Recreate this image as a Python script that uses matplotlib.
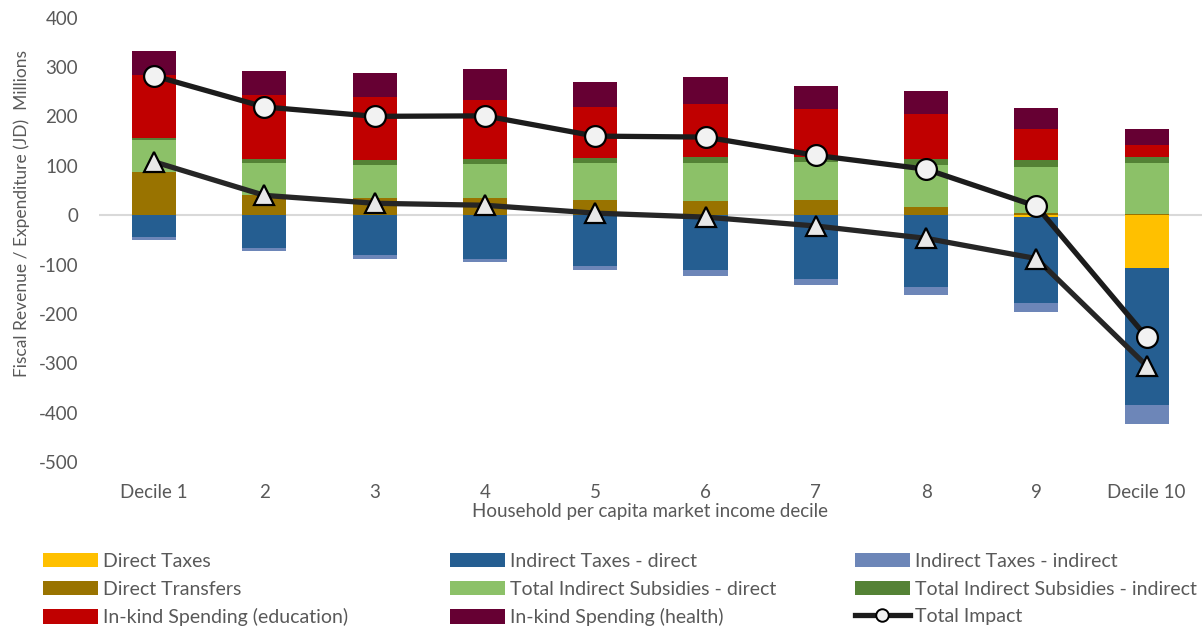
import numpy as np
import matplotlib
matplotlib.use("Agg")
from matplotlib import pyplot as plt
from matplotlib.patches import Patch
from matplotlib.lines import Line2D

plt.rcParams['font.family'] = ['Lato', 'DejaVu Sans']
plt.rcParams['axes.unicode_minus'] = False

deciles = ["Decile 1", "2", "3", "4", "5", "6", "7", "8", "9", "Decile 10"]

# negative components (taxes)
direct_taxes = [0, 0, 0, 0, 0, 0, 0, 0, -3, -107]
indirect_taxes_direct = [-44, -67, -81, -88, -103, -111, -130, -146, -175, -278]
indirect_taxes_indirect = [-6, -6, -7, -6, -8, -12, -11, -15, -19, -37]

# positive components (transfers, subsidies, in-kind)
direct_transfers = [88, 40, 35, 34, 30, 28, 30, 17, 5, 3]
subsidies_direct = [64, 65, 66, 69, 75, 78, 78, 84, 92, 102]
subsidies_indirect = [5, 8, 10, 10, 10, 11, 10, 12, 14, 12]
inkind_education = [126, 131, 129, 121, 103, 108, 97, 91, 64, 25]
inkind_health = [49, 48, 47, 61, 52, 55, 46, 48, 41, 33]

total_impact = [282, 219, 200, 201, 160, 158, 121, 93, 18, -247]
impact_no_inkind = [108, 40, 24, 20, 4, -4, -22, -47, -88, -305]

c_dtax = "#FFC000"
c_itax_d = "#255E91"
c_itax_i = "#6D86B8"
c_dtrans = "#997300"
c_sub_d = "#8CC168"
c_sub_i = "#548235"
c_edu = "#C00000"
c_health = "#660033"

fig = plt.figure(figsize=(12.04, 6.27), dpi=100)
ax = fig.add_axes([0.0822, 0.263, 0.916, 0.709])

x = np.arange(len(deciles))
w = 0.4

# stack below zero
neg_base = np.zeros(len(x))
for vals, col in [(direct_taxes, c_dtax), (indirect_taxes_direct, c_itax_d),
                  (indirect_taxes_indirect, c_itax_i)]:
    ax.bar(x, vals, w, bottom=neg_base, color=col, zorder=2)
    neg_base = neg_base + np.array(vals)

# stack above zero
pos_base = np.zeros(len(x))
for vals, col in [(direct_transfers, c_dtrans), (subsidies_direct, c_sub_d),
                  (subsidies_indirect, c_sub_i), (inkind_education, c_edu),
                  (inkind_health, c_health)]:
    ax.bar(x, vals, w, bottom=pos_base, color=col, zorder=2)
    pos_base = pos_base + np.array(vals)

ax.axhline(0, color="#D9D9D9", lw=1.5, zorder=1)

ax.plot(x, impact_no_inkind, color="#262626", lw=3.8, marker="^", ms=15,
        mfc="#E8E8E8", mec="black", mew=1.6, zorder=3)
ax.plot(x, total_impact, color="#1C1C1C", lw=3.8, marker="o", ms=15,
        mfc="#F2F2F2", mec="black", mew=1.6, zorder=4)

ax.set_xlim(-0.5, 9.5)
ax.set_ylim(-500, 400)
ax.set_yticks(range(-500, 401, 100))
ax.set_xticks(x)
ax.set_xticklabels(deciles)
for s in ax.spines.values():
    s.set_visible(False)
ax.tick_params(length=0, labelsize=13.5, labelcolor="#595959")
ax.tick_params(axis="y", pad=15)
ax.tick_params(axis="x", pad=16)
ax.set_xlabel("Household per capita market income decile", fontsize=13.5,
              color="#595959", labelpad=1)
fig.text(0.018, 0.66, "Fiscal Revenue / Expenditure (JD)  Millions", rotation=90,
         ha="center", va="center", fontsize=12.5, color="#595959")

cols = [
    [("Direct Taxes", c_dtax), ("Direct Transfers", c_dtrans),
     ("In-kind Spending (education)", c_edu)],
    [("Indirect Taxes - direct", c_itax_d), ("Total Indirect Subsidies - direct", c_sub_d),
     ("In-kind Spending (health)", c_health)],
    [("Indirect Taxes - indirect", c_itax_i), ("Total Indirect Subsidies - indirect", c_sub_i),
     ("Total Impact", None)],
]
xpos = [43, 450, 855]
for cx, entries in zip(xpos, cols):
    handles = []
    labels = []
    for lab, col in entries:
        if col is None:
            handles.append(Line2D([], [], color="#1C1C1C", lw=3.8, marker="o", ms=9,
                                  mfc="#F2F2F2", mec="black", mew=1.4))
        else:
            handles.append(Patch(facecolor=col))
        labels.append(lab)
    fig.legend(handles, labels, loc="upper left",
               bbox_to_anchor=(cx / 1204 - 0.003, 1 - 549 / 627), frameon=False,
               fontsize=14, labelcolor="#595959", handlelength=2.8,
               handleheight=0.75, handletextpad=0.25, labelspacing=0.55,
               borderpad=0.2, borderaxespad=0)

fig.savefig("out.png", dpi=100)
